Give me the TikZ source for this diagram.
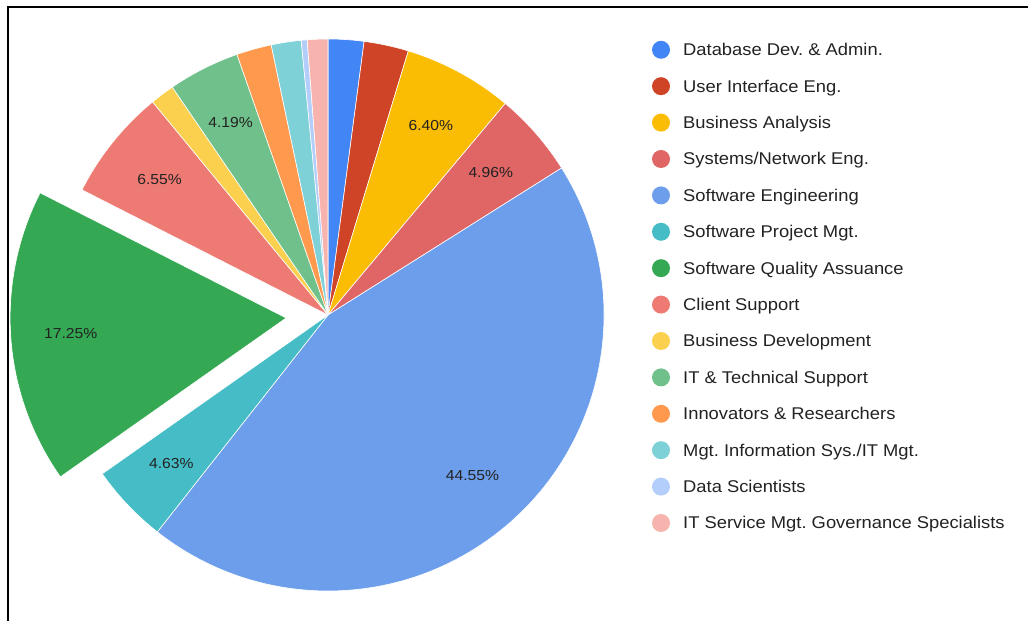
\documentclass[tikz,border=0pt]{standalone}
\usepackage{fontspec}
\setmainfont{Liberation Sans}[FakeStretch=1.08]
\usetikzlibrary{calc}
\frenchspacing
\definecolor{cDB}{HTML}{4285F4}
\definecolor{cUI}{HTML}{CF4327}
\definecolor{cBA}{HTML}{FBBC04}
\definecolor{cSN}{HTML}{E06666}
\definecolor{cSE}{HTML}{6D9EEB}
\definecolor{cSP}{HTML}{46BDC6}
\definecolor{cSQA}{HTML}{34A853}
\definecolor{cCS}{HTML}{EE7B73}
\definecolor{cBD}{HTML}{FCD04F}
\definecolor{cIT}{HTML}{6FC08A}
\definecolor{cIN}{HTML}{FF994D}
\definecolor{cMIS}{HTML}{7ED1D7}
\definecolor{cDS}{HTML}{B3CEFB}
\definecolor{cITS}{HTML}{F7B4AE}
\definecolor{txt}{HTML}{222222}
\newcommand{\pcx}{328}
\newcommand{\pcy}{306}
\newcommand{\pieslice}[4][]{%
  \fill[slice=#4,#1] (\pcx,\pcy) -- ++({90-#2}:276pt)
    arc[start angle={90-#2}, end angle={90-#3}, radius=276pt] -- cycle;}
\begin{document}
\frenchspacing
\begin{tikzpicture}[x=1pt,y=1pt,
  slice/.style={fill=#1, draw=white, line width=0.6pt, line join=round},
  pct/.style={font=\fontsize{14.5}{16}\selectfont, text=txt, inner sep=0pt},
  legdot/.style={circle, fill=#1, minimum size=18pt, inner sep=0pt},
  legtext/.style={font=\fontsize{17}{20}\selectfont\frenchspacing, text=txt, inner sep=0pt, anchor=base west},
  frameline/.style={line width=2.5pt, black}]
\useasboundingbox (0,0) rectangle (1028,621);
% frame (left and top edges)
\draw[frameline] (8,0) -- (8,614) -- (1028,614);
\coordinate (P) at (\pcx,\pcy);
% slices (angles clockwise from top, degrees)
\pieslice{0}{7.524}{cDB}
\pieslice{7.524}{16.92}{cUI}
\pieslice{16.92}{39.96}{cBA}
\pieslice{39.96}{57.816}{cSN}
\pieslice{57.816}{218.196}{cSE}
\pieslice{218.196}{234.864}{cSP}
\pieslice[shift={(-175.914:42pt)}]{234.864}{296.964}{cSQA}
\pieslice{296.964}{320.544}{cCS}
\pieslice{320.544}{325.656}{cBD}
\pieslice{325.656}{340.74}{cIT}
\pieslice{340.74}{348.12}{cIN}
\pieslice{348.12}{354.42}{cMIS}
\pieslice{354.42}{355.68}{cDS}
\pieslice{355.68}{360}{cITS}
% percentage labels
\node[pct] (lBA)  at ($(P)+(61.56:216pt)$) {6.40\%};
\node[pct] (lSN)  at ($(P)+(41.112:216pt)$) {4.96\%};
\node[pct] (lSE)  at ($(P)+(-48.006:216pt)$) {44.55\%};
\node[pct] (lSP)  at ($(P)+(-136.53:216pt)$) {4.63\%};
\node[pct] (lSQA) at ($(P)+(-175.914:258pt)$) {17.25\%};
\node[pct] (lCS)  at ($(P)+(141.246:216pt)$) {6.55\%};
\node[pct] (lIT)  at ($(P)+(116.802:216pt)$) {4.19\%};
% legend
\foreach \i/\c/\t in {
  0/cDB/{Database Dev. \& Admin.},
  1/cUI/{User Interface Eng.},
  2/cBA/{Business Analysis},
  3/cSN/{Systems/Network Eng.},
  4/cSE/{Software Engineering},
  5/cSP/{Software Project Mgt.},
  6/cSQA/{Software Quality Assuance},
  7/cCS/{Client Support},
  8/cBD/{Business Development},
  9/cIT/{IT \& Technical Support},
  10/cIN/{Innovators \& Researchers},
  11/cMIS/{Mgt. Information Sys./IT Mgt.},
  12/cDS/{Data Scientists},
  13/cITS/{IT Service Mgt. Governance Specialists}}{
  \pgfmathsetmacro{\yy}{621-49.8-36.4*\i}
  \node[legdot=\c] (dot\i) at (661,\yy) {};
  \node[legtext] (leg\i) at (683,\yy-6) {\t};
}
\end{tikzpicture}
\end{document}
